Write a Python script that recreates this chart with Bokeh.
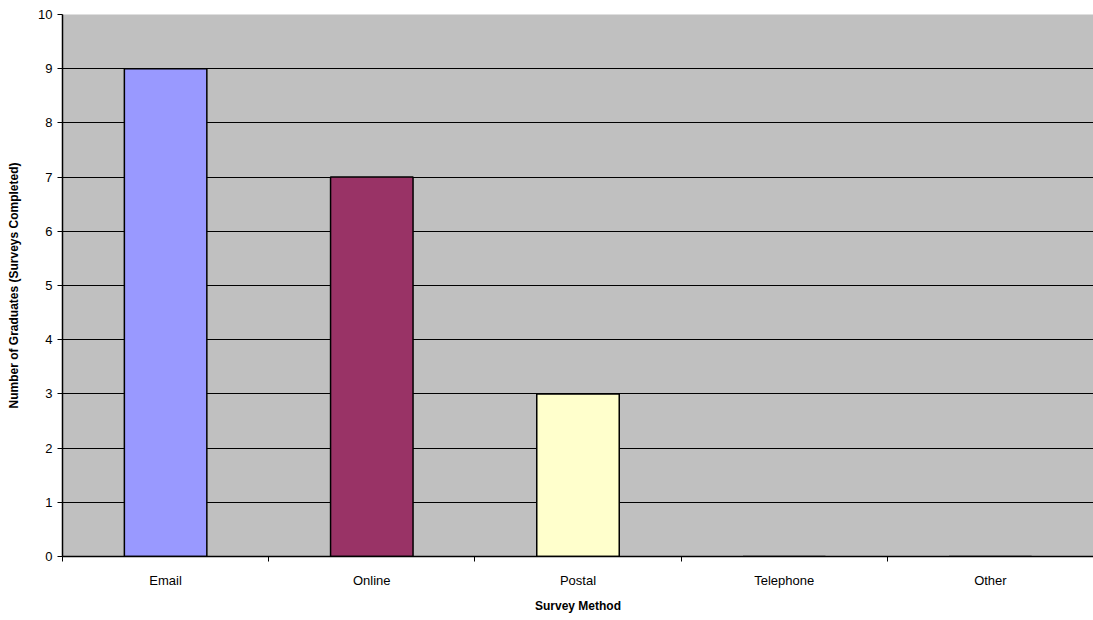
from bokeh.plotting import figure
from bokeh.models import FixedTicker, Range1d, ColumnDataSource
from bokeh.embed import file_html
from bokeh.resources import INLINE

# Survey responses by collection method
methods = ["Email", "Online", "Postal", "Telephone", "Other"]
counts = [9, 7, 3, 0, 0]
colors = ["#9999FF", "#993366", "#FFFFCC", "#CCFFFF", "#660066"]
y_ticks = [0, 1, 2, 3, 4, 5, 6, 7, 8, 9, 10]

centers = [i + 0.5 for i in range(len(methods))]
bounds = list(range(len(methods) + 1))

src = ColumnDataSource(dict(x=centers, top=counts, color=colors, name=methods))

p = figure(width=1093, height=620, output_backend="svg", toolbar_location=None,
           x_range=Range1d(0, len(methods)), y_range=Range1d(0, 10),
           min_border_left=62, min_border_right=0, min_border_top=14,
           min_border_bottom=64)
p.background_fill_color = "#C0C0C0"
p.border_fill_color = "white"
p.outline_line_color = None

# zero-height bars stay hidden under the axis line
p.vbar(x="x", top="top", width=0.4, bottom=0, fill_color="color",
       line_color="black", line_width=1.5, source=src)

font = "Liberation Sans"

# x axis: labels at category centres, tick marks at category boundaries
xt = FixedTicker(ticks=centers, minor_ticks=bounds)
p.xaxis.ticker = xt
p.xaxis.major_label_overrides = {c: m for c, m in zip(centers, methods)}
p.xaxis.major_tick_out = 0
p.xaxis.major_tick_in = 0
p.xaxis.minor_tick_out = 5
p.xaxis.minor_tick_in = 0
p.xaxis.major_label_standoff = 11
p.xaxis.axis_label = "Survey Method"
p.xaxis.axis_label_standoff = 8

p.yaxis.ticker = FixedTicker(ticks=y_ticks)
p.yaxis.major_tick_out = 5
p.yaxis.major_tick_in = 0
p.yaxis.minor_tick_out = 0
p.yaxis.minor_tick_in = 0
p.yaxis.major_label_standoff = 5
p.yaxis.axis_label = "Number of Graduates (Surveys Completed)"
p.yaxis.axis_label_standoff = 14

for ax in (p.xaxis, p.yaxis):
    ax.axis_line_color = "black"
    ax.axis_line_width = 1.5
    ax.major_tick_line_color = "black"
    ax.minor_tick_line_color = "black"
    ax.major_label_text_font = font
    ax.major_label_text_font_size = "13px"
    ax.major_label_text_color = "black"
    ax.axis_label_text_font = font
    ax.axis_label_text_font_size = "12px"
    ax.axis_label_text_font_style = "bold"
    ax.axis_label_text_color = "black"

p.xgrid.grid_line_color = None
p.ygrid.ticker = FixedTicker(ticks=y_ticks)
p.ygrid.grid_line_color = "black"
p.ygrid.grid_line_width = 1

open("out.html", "w").write(file_html(p, INLINE))
